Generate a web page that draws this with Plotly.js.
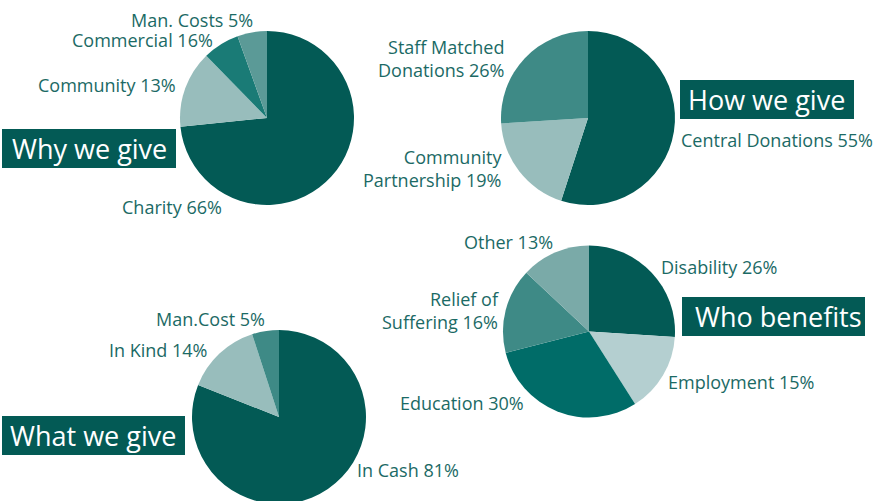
<!DOCTYPE html>
<html>
<head>
<meta charset="utf-8">
<script src="https://cdn.plot.ly/plotly-3.0.1.min.js"></script>
<style>
html, body { margin:0; padding:0; overflow:hidden; background:#fff; }
#chart { width:874px; height:506px; }
</style>
</head>
<body>
<div id="chart"></div>
<script>
// ---- Data ----
// Why we give (slice sizes as drawn; printed labels differ)
const whyNames   = ['Charity', 'Community', 'Commercial', 'Man. Costs'];
const whyPrinted = [66, 13, 16, 5];
const whyDrawn   = [73.4, 14.3, 6.8, 5.5];

// How we give
const howNames  = ['Central Donations', 'Community<br>Partnership', 'Staff Matched<br>Donations'];
const howValues = [55, 19, 26];

// Who benefits
const whoNames  = ['Disability', 'Employment', 'Education', 'Relief of<br>Suffering', 'Other'];
const whoValues = [26, 15, 30, 16, 13];

// What we give
const whatNames  = ['In Cash', 'In Kind', 'Man.Cost'];
const whatValues = [81, 14, 5];

const titles = ['Why we give', 'How we give', 'Who benefits', 'What we give'];

// ---- Styles ----
const W = 874, H = 506;
const DARK = '#035a55';
const TXT = '#1b6a65';
const FONT = '"Open Sans", "Noto Sans", sans-serif';

const whyColors  = [DARK, '#98bdbc', '#1a7b76', '#5b9a97'];
const howColors  = [DARK, '#98bdbc', '#3e8a86'];
const whoColors  = [DARK, '#b4cfd0', '#006c68', '#3e8a86', '#7aaaa8'];
const whatColors = [DARK, '#98bdbc', '#3e8a86'];

function dom(x0, x1, y0, y1) { // pixel box (top-based) -> paper domain
  return { x: [x0 / W, x1 / W], y: [1 - y1 / H, 1 - y0 / H] };
}
function pie(names, values, colors, d) {
  return {
    type: 'pie', labels: names, values: values, sort: false,
    direction: 'clockwise', rotation: 0, textinfo: 'none', hoverinfo: 'none',
    marker: { colors: colors, line: { width: 0 } },
    domain: d, showlegend: false
  };
}

const data = [
  pie(whyNames, whyDrawn, whyColors, dom(180, 354, 31, 205)),
  pie(howNames, howValues, howColors, dom(501, 675, 31, 205)),
  pie(whoNames, whoValues, whoColors, dom(503, 675, 245.5, 417.5)),
  pie(whatNames, whatValues, whatColors, dom(192, 366, 330, 504))
];

const annotations = [];
function lab(text, x, y, anchor) {
  annotations.push({
    text: text, xref: 'paper', yref: 'paper', x: x / W, y: 1 - y / H,
    xanchor: anchor, yanchor: 'middle', align: anchor === 'left' ? 'left' : 'right',
    showarrow: false, borderpad: 0, font: { family: FONT, size: 18, color: TXT }
  });
}
// Why we give labels
const whyPos = [[121, 207, 'left'], [177, 85, 'right'], [214, 40, 'right'], [254, 20, 'right']];
whyNames.forEach((n, i) => lab(n + ' ' + whyPrinted[i] + '%', whyPos[i][0], whyPos[i][1], whyPos[i][2]));
// How we give labels
const howPos = [[680, 140, 'left'], [503, 168.5, 'right'], [505, 58.5, 'right']];
howNames.forEach((n, i) => lab(n + ' ' + howValues[i] + '%', howPos[i][0], howPos[i][1], howPos[i][2]));
// Who benefits labels
const whoPos = [[660, 267, 'left'], [667, 382, 'left'], [525, 403, 'right'], [500, 310.5, 'right'], [554, 242, 'right']];
whoNames.forEach((n, i) => lab(n + ' ' + whoValues[i] + '%', whoPos[i][0], whoPos[i][1], whoPos[i][2]));
// What we give labels
const whatPos = [[356, 470, 'left'], [209, 350, 'right'], [266, 319, 'right']];
whatNames.forEach((n, i) => lab(n + ' ' + whatValues[i] + '%', whatPos[i][0], whatPos[i][1], whatPos[i][2]));

// Title boxes
const boxes = [[2, 129, 176, 168, 8], [680, 80, 854, 119, 6], [682, 297, 865, 336, 11], [2, 416, 185, 455, 6]];
const shapes = [];
boxes.forEach((b, i) => {
  shapes.push({
    type: 'rect', xref: 'paper', yref: 'paper',
    x0: b[0] / W, x1: b[2] / W, y0: 1 - b[3] / H, y1: 1 - b[1] / H,
    fillcolor: DARK, line: { width: 0 }, layer: 'above'
  });
  annotations.push({
    text: titles[i], xref: 'paper', yref: 'paper',
    x: (b[0] + b[4]) / W, y: 1 - ((b[1] + b[3]) / 2) / H,
    xanchor: 'left', yanchor: 'middle', showarrow: false,
    font: { family: FONT, size: 27, color: '#ffffff' }
  });
});

const layout = {
  width: W, height: H,
  margin: { l: 0, r: 0, t: 0, b: 0 },
  paper_bgcolor: '#ffffff',
  showlegend: false,
  shapes: shapes,
  annotations: annotations
};

Plotly.newPlot('chart', data, layout, { staticPlot: true, displayModeBar: false });
</script>
</body>
</html>
